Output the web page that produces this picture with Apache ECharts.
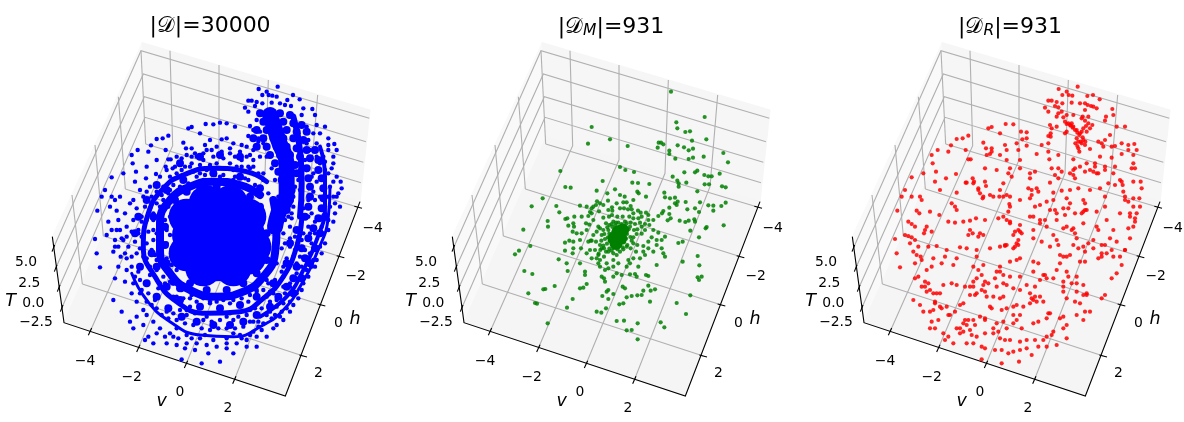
<!DOCTYPE html>
<html><head><meta charset="utf-8"><style>html,body{margin:0;padding:0;background:#fff}#c{width:1184px;height:422px}</style>
<script src="https://cdn.jsdelivr.net/npm/echarts@6/dist/echarts.min.js"></script></head><body><div id="c"></div>
<script>
const titles=[["","30000"],["M","931"],["R","931"]];
const vTicks=["−4","−2","0","2"], hTicks=["−4","−2","0","2"], tTicks=["5.0","2.5","0.0","−2.5"];
const vTickAt=[[255,1085],[395,1133],[540,1177],[684,1225]];
const hTickAt=[[1118,685],[1067,828],[1015,969],[955,1120]];
const tTickAt=[[78,788],[88,850],[100,910],[108,967]];
const axisNames=[["v",485,1203],["h",1065,957],["T",32,905]];
const floorPane=[[192,968],[856,1188],[1080,605],[438,412]];
const backPane=[[438,412],[1080,605],[1110,330],[427,128]];
const leftPane=[[192,968],[157,710],[427,128],[438,412]];
const gridPaths=[
[[437,432],[423,152]],[[376,567],[355,290]],[[310,708],[285,435]],[[247,852],[216,585]],
[[160,745],[423,152],[1108,355]],[[167,805],[430,222],[1098,425]],[[176,865],[433,290],[1090,487]],[[185,925],[435,352],[1083,548]],
[[270,995],[518,437],[510,152]],[[415,1045],[657,480],[657,195]],[[558,1093],[795,520],[805,240]],[[703,1140],[930,560],[953,285]],
[[1075,622],[437,432]],[[1022,770],[376,567]],[[965,915],[310,708]],[[910,1068],[247,852]]];
const axisPaths=[[[157,710],[192,968],[856,1188],[1080,605]],
[[275,984],[265,1006]],[[420,1034],[410,1056]],[[563,1082],[553,1104]],[[708,1129],[698,1151]],
[[1063,619],[1086,625]],[[1010,767],[1033,773]],[[953,912],[976,918]],[[898,1065],[921,1071]],
[[164,735],[156,755]],[[171,795],[163,815]],[[180,855],[172,875]],[[189,915],[181,935]]];

const greenCore=[[655,695],[642,715],[662,715],[648,730],[668,690]];
const greenPoints=[[813,275],[914,351],[829,367],[832,385],[856,396],[870,394],[876,422],[919,418],[575,381],[630,418],[564,431],[683,438],[776,428],[773,443],[783,428],[790,433],[833,436],[852,442],[866,451],[879,446],[808,452],[808,462],[826,476],[866,477],[879,473],[911,470],[970,459],[984,487],[481,513],[660,501],[676,510],[702,516],[818,530],[853,517],[885,517],[892,512],[913,525],[925,529],[935,529],[959,521],[832,542],[836,550],[859,548],[836,560],[914,553],[927,553],[966,559],[977,562],[608,543],[697,548],[714,549],[748,552],[496,561],[512,563],[590,572],[712,575],[716,580],[622,580],[645,568],[660,585],[674,590],[738,590],[793,578],[795,592],[810,595],[825,593],[892,574],[428,595],[395,619],[469,618],[540,617],[575,625],[580,620],[591,604],[588,615],[624,602],[636,622],[670,607],[680,607],[692,618],[684,628],[695,628],[637,632],[672,625],[825,610],[833,605],[857,606],[900,607],[925,616],[940,617],[964,618],[977,608],[940,632],[790,633],[808,623],[830,615],[862,628],[885,625],[897,636],[745,645],[775,648],[786,640],[808,642],[812,655],[803,661],[839,662],[856,666],[866,662],[883,658],[885,665],[871,692],[917,685],[920,681],[971,676],[897,712],[848,725],[835,729],[443,663],[444,680],[370,689],[478,637],[496,657],[502,655],[523,650],[520,670],[505,677],[522,680],[545,650],[565,648],[570,636],[558,670],[568,674],[597,634],[610,653],[627,650],[636,645],[652,650],[668,650],[688,650],[700,640],[714,632],[722,638],[738,638],[715,655],[725,650],[745,660],[595,680],[590,695],[600,685],[618,670],[628,675],[640,665],[655,668],[675,665],[692,668],[705,672],[720,668],[735,690],[760,690],[775,698],[795,710],[755,712],[770,720],[745,725],[730,738],[712,735],[700,730],[692,745],[708,755],[730,755],[760,755],[785,745],[790,760],[795,770],[720,775],[700,775],[685,780],[770,795],[848,785],[893,768],[898,796],[905,830],[893,832],[897,840],[871,886],[830,909],[858,942],[345,763],[357,752],[391,738],[373,813],[397,822],[385,880],[430,868],[436,867],[464,858],[405,909],[411,911],[443,970],[501,923],[518,897],[540,865],[550,863],[560,852],[530,700],[518,695],[540,720],[508,722],[495,728],[520,745],[495,752],[518,760],[543,745],[565,725],[575,722],[570,750],[585,750],[600,735],[595,765],[590,775],[600,780],[612,770],[625,755],[640,760],[650,765],[660,755],[670,748],[680,740],[476,778],[500,790],[540,790],[503,813],[555,815],[555,825],[600,800],[615,810],[625,805],[640,800],[605,830],[612,835],[615,845],[650,820],[640,830],[665,825],[690,823],[705,822],[710,830],[738,825],[745,828],[625,870],[620,875],[607,888],[640,882],[668,860],[675,865],[745,857],[765,868],[752,872],[730,872],[725,885],[712,886],[695,888],[680,892],[670,910],[658,913],[750,905],[625,897],[618,925],[590,935],[604,938],[650,963],[672,962],[713,970],[782,967],[793,982],[680,991],[695,990],[713,1018],
[637,681],[646,676],[657,683],[666,677],[641,692],[651,688],[661,693],[672,689],[628,701],[639,698],[650,703],[661,699],[671,704],[624,712],[634,709],[644,714],[656,708],[666,714],[629,722],[641,724],[650,719],[660,726],[636,733],[646,729],[656,735],[615,717],[621,731],[613,702],[681,702],[686,688],[678,716],[672,727],[640,744],[655,741],[628,746],[604,722],[610,737],[691,711],[702,690],[710,702],[596,761],[601,750],[612,745],[700,712],[725,701],
[610,690],[625,690],[605,705],[680,670],[665,672],[648,668],[635,672],[622,682],[690,680],[605,745],[618,755],[635,752],[652,748],[668,742],[682,735],[695,722],[712,688],[725,680],[580,705],[572,722],[588,725],[560,760],[575,775],[595,790],[620,790],[640,780],[655,790],[680,800],[690,790],[715,800],[735,765],[745,745],[770,735],[785,720],[760,660],[748,675],[735,672],[700,655],[580,660],[560,690],[545,700],[520,725],[650,610],[660,625],[700,600],[610,615],[600,610],[575,640],[560,620],[625,630]];

const redPoints=[[776,267],[833,260],[800,275],[806,285],[817,287],[787,285],[879,285],[862,288],[745,302],[755,302],[770,306],[787,310],[815,308],[840,310],[855,310],[863,315],[873,318],[899,298],[765,318],[775,322],[735,323],[745,335],[775,340],[785,335],[800,345],[820,345],[855,330],[880,320],[890,325],[937,327],[940,345],[918,350],[915,362],[750,375],[755,385],[770,350],[790,352],[795,365],[815,370],[820,380],[830,390],[840,400],[810,375],[845,355],[855,362],[865,370],[870,385],[860,395],[877,375],[800,395],[795,400],[835,425],[845,430],[830,415],[850,420],[855,435],[835,445],[838,455],[870,447],[895,425],[915,420],[905,430],[930,405],[950,380],[975,380],[745,408],[752,410],[745,430],[725,435],[680,397],[663,395],[680,415],[667,418],[650,430],[617,372],[640,373],[575,381],[565,385],[505,407],[488,415],[470,417],[600,400],[453,436],[413,450],[445,455],[395,465],[398,490],[505,478],[512,478],[497,450],[550,428],[558,445],[575,445],[560,465],[570,462],[575,455],[615,435],[620,450],[600,465],[620,480],[660,480],[655,450],[680,437],[710,462],[745,455],[748,478],[775,465],[755,505],[775,505],[820,478],[860,490],[885,490],[900,470],[935,440],[945,438],[965,430],[985,435],[1003,432],[985,450],[1010,450],[965,462],[1000,490],[995,505],[935,473],[880,515],[890,520],[915,500],[940,520],[960,540],[825,505],[810,520],[825,535],[765,525],[785,515],[775,535],[750,548],[705,515],[690,520],[690,535],[660,505],[630,505],[625,520],[635,530],[590,510],[555,505],[610,550],[408,515],[405,545],[370,520],[335,532],[438,535],[468,522],[497,548],[518,535],[522,545],[555,545],[558,558],[535,565],[540,580],[548,595],[580,590],[570,585],[600,570],[610,590],[630,590],[685,565],[695,570],[710,565],[715,575],[695,585],[660,600],[690,595],[760,578],[785,572],[810,570],[835,565],[870,570],[900,565],[965,545],[970,575],[975,590],[1000,545],[1022,545],[1025,565],[1000,595],[1020,620],[985,605],[915,590],[800,595],[850,600],[855,610],[810,610],[760,600],[740,605],[720,615],[705,620],[750,630],[765,630],[790,625],[805,625],[850,635],[860,630],[825,640],[795,645],[770,660],[915,620],[890,635],[960,640],[990,650],[1010,640],[1005,665],[1000,680],[985,685],[315,570],[305,590],[335,590],[360,590],[365,600],[420,570],[470,578],[455,610],[465,620],[470,630],[350,632],[358,640],[390,635],[418,645],[292,632],[325,665],[335,672],[345,680],[380,680],[375,690],[372,700],[445,665],[465,668],[490,665],[510,662],[528,655],[555,660],[595,655],[630,620],[625,635],[610,650],[630,665],[660,675],[690,650],[700,650],[720,670],[735,660],[790,685],[815,690],[820,685],[850,670],[890,680],[895,690],[940,690],[920,660],[285,717],[315,705],[325,708],[335,712],[345,720],[330,730],[355,740],[340,755],[350,765],[290,760],[300,802],[345,790],[362,770],[365,780],[400,775],[385,740],[410,738],[440,750],[395,695],[510,690],[518,700],[535,710],[550,705],[505,705],[540,700],[480,742],[500,745],[530,750],[570,745],[600,740],[615,735],[640,745],[650,730],[655,720],[660,695],[645,695],[665,700],[700,715],[760,705],[770,720],[775,735],[725,725],[750,740],[780,765],[800,770],[810,765],[850,740],[855,755],[880,720],[905,735],[950,725],[975,750],[960,770],[940,770],[920,760],[905,770],[855,785],[840,785],[780,790],[800,815],[805,830],[790,845],[730,825],[740,835],[720,840],[700,785],[715,790],[660,775],[650,780],[630,785],[600,800],[590,815],[550,795],[530,770],[520,800],[470,775],[460,795],[435,770],[425,790],[395,800],[380,810],[355,830],[345,835],[375,845],[385,850],[365,860],[390,870],[400,880],[410,880],[430,855],[455,850],[470,855],[495,860],[510,860],[520,860],[545,870],[555,875],[530,880],[510,885],[525,885],[560,890],[580,890],[600,895],[610,890],[640,865],[660,830],[680,855],[660,870],[690,880],[720,890],[700,900],[710,905],[690,910],[640,920],[650,915],[670,920],[570,920],[575,925],[605,930],[620,925],[555,845],[565,850],[610,850],[620,855],[830,850],[830,875],[850,885],[860,885],[790,875],[800,895],[825,905],[840,910],[905,895],[915,885],[935,835],[950,820],[965,795],[340,900],[370,935],[400,930],[420,920],[405,910],[425,925],[395,965],[390,985],[405,985],[445,945],[465,935],[480,915],[490,910],[445,1010],[435,1020],[460,1030],[480,985],[490,970],[505,960],[520,960],[490,995],[515,1005],[525,975],[555,955],[580,985],[590,970],[595,995],[610,965],[640,945],[650,960],[665,985],[700,970],[715,965],[750,940],[780,955],[790,950],[800,975],[790,985],[830,945],[855,935],[870,935],[850,960],[760,995],[755,1005],[740,1010],[730,1020],[705,1020],[680,1020],[660,1025],[630,1020],[615,1020],[600,1015],[555,1000],[530,1010],[520,1030],[545,1040],[555,1045],[585,1050],[605,1050],[625,1060],[640,1055],[660,1050],[680,1045],[695,1065],[715,1040],[740,1040],[770,1035],[800,1015],[545,1078],[605,1090],[657,1085],
[805,370],[812,377],[818,383],[825,390],[832,398],[838,405],[845,395],[850,385],[858,378],[842,425],[848,412],[826,430],[832,438],[856,425],[865,350],[848,350],[800,372],[770,380],[752,400],[910,440],[945,500],[968,555],[975,600],[1000,620],[1018,595],[990,640],[1005,655],[915,510],[945,555],[925,550],[895,520],[885,500],[870,510],[855,515],[840,500],[820,525],[820,510],[1005,505],[1000,465],[620,585],[628,612],[598,590],[550,590],[535,570],[500,548],[520,550],[620,660],[630,670],[655,690],[640,705],[655,735],[645,740],[615,738],[620,735],[700,690],[720,660],[740,680],[770,640],[855,630],[845,640],[800,680],[825,700],[830,715],[865,730],[880,745],[790,770],[820,735],[835,745],[895,775],[905,760],[930,715],[915,735],[935,750],[990,715],[975,750],[535,810],[545,825],[530,835],[520,845],[550,855],[590,860],[610,825],[600,815],[585,835],[630,830],[700,815],[735,825],[705,860],[760,835],[770,810],[830,830],[815,850],[850,855],[860,880],[790,860],[745,940],[740,955],[705,890],[695,895],[730,905],[660,945],[640,970],[620,985],[580,1000],[555,960],[540,950],[495,960],[500,975],[470,985],[480,1000],[510,990],[500,1030],[430,1000],[415,960],[390,935],[360,915],[405,905],[440,920],[450,945],[420,880],[380,875],[375,860]];

const blueCore=[[650,705],[600,650],[700,650],[600,760],[700,760],[650,620],[650,790],[570,705],[740,700],[760,740],[620,610],[690,610],[745,650],[560,650],[560,760],[610,805],[700,805],[745,770]];
const blueFill=[[780,340],[810,340],[840,340],[870,345],[790,365],[820,365],[850,365],[880,370],[905,375],[770,390],[800,390],[830,390],[860,390],[890,395],[920,395],[760,415],[790,415],[820,415],[850,415],[880,415],[910,420],[770,440],[800,440],[830,440],[860,440],[890,445],[920,450],[945,450],[810,465],[840,465],[870,465],[900,470],[930,475],[955,480],[825,490],[855,490],[885,495],[920,505],[955,510],[835,515],[865,515],[890,520],[925,535],[965,535],[845,540],[870,545],[930,560],[970,565],[850,565],[875,570],[930,590],[970,595],[850,595],[870,600],[925,620],[965,625],[840,620],[860,630],[915,650],[955,655],[890,690],[940,685],[925,715],[905,745],[915,775],[890,800],[880,835],[860,860],[835,890],[810,920],[770,945],[730,965],[690,975],[640,975],[590,965],[545,950],[505,925],[470,890],[440,850],[420,800],[405,700],[415,650],[440,600],[470,555],[540,490],[600,470],[660,465],[720,470],[975,650],[960,700],[945,745],[930,790],[905,835],[880,880],[520,845],[540,865],[500,790],[495,735],[495,680],[525,600],[560,575],[600,560],[650,560],[700,570],[750,590],[780,620],[800,700],[800,780],[770,820],[730,850],[680,870],[620,870],[570,850],[455,760],[470,800],[500,860],[540,900],[600,920],[660,925],[720,915],[770,890],[820,850],[860,790],[870,730],[460,650],[500,570],[550,540],[640,520],[720,530],[780,565]];
const blueBandInner=[[820,600],[830,680],[825,760],[790,830],[730,875],[650,890],[570,870],[510,820],[480,750],[480,670],[510,600],[570,560],[640,545],[720,555],[780,585]];
const blueBandMiddle=[[905,660],[890,740],[850,830],[790,895],[720,935],[620,940],[530,905],[465,830],[430,740],[445,640],[490,565],[550,525],[640,505],[740,515],[800,545]];
const blueBandOuter=[[990,560],[985,650],[950,760],[900,860],[850,930],[790,975],[700,1010],[600,1005],[510,965],[440,900],[395,820]];
const blueBandRight=[[960,440],[975,530],[975,620],[950,720],[910,810],[860,890],[780,950]];
const blueBandSide=[[880,350],[900,450],[905,550],[900,650]];
const blueStem=[[810,345],[835,420],[860,500],[860,580],[835,640],[825,680]];
const blueSparse=[[776,267],[833,260],[800,275],[806,285],[817,287],[787,285],[830,290],[879,285],[862,300],[745,302],[755,302],[770,306],[787,310],[815,308],[840,310],[855,315],[873,318],[899,298],[910,325],[735,323],[745,335],[765,318],[905,345],[937,327],[945,345],[950,375],[975,380],[750,378],[745,408],[725,435],[705,380],[680,370],[660,368],[617,372],[640,373],[575,381],[565,385],[505,407],[488,415],[470,417],[600,400],[630,420],[665,418],[680,415],[700,430],[453,436],[413,450],[445,455],[395,465],[398,490],[505,478],[512,478],[497,450],[550,428],[558,445],[575,445],[560,465],[585,460],[615,435],[620,450],[650,440],[690,445],[740,440],[408,515],[405,545],[370,520],[335,532],[438,535],[468,522],[497,500],[518,505],[530,470],[470,480],[440,500],[985,435],[1003,432],[985,450],[1010,450],[1000,490],[995,505],[1022,545],[1025,565],[1000,545],[1010,590],[1020,620],[1005,640],[1000,665],[985,690],[975,730],[965,760],[945,800],[925,830],[905,870],[895,895],[860,925],[870,935],[850,960],[830,975],[800,1010],[770,1040],[740,1040],[700,1060],[680,1045],[660,1085],[625,1060],[605,1090],[585,1050],[545,1078],[555,1045],[530,1035],[500,1030],[460,1030],[445,1010],[435,1020],[480,985],[440,945],[400,985],[390,965],[365,935],[340,900],[345,835],[300,802],[290,760],[285,717],[292,632],[305,590],[315,570],[335,590],[360,590],[350,632],[325,665],[335,690],[320,705],[345,720],[355,740],[340,755],[362,770],[380,810],[375,845],[395,880],[410,905],[430,930],[460,965],[380,680],[375,640],[390,610],[420,570],[400,600],[425,650],[370,720],[395,695],[385,740],[410,760],[395,800],[420,840],[445,880],[470,925],[505,955],[530,985],[560,1005],[600,1015],[640,1020],[680,1015],[720,1005],[760,995],[790,970],[825,945],[850,910],[880,915],[910,850],[940,780],[970,700],[990,620],[990,560],[975,510],[970,470],[950,430],[925,420],[575,490],[630,495],[690,490],[745,500],[530,520],[490,560],[455,610],[425,710],[430,770],[450,800],[480,850],[520,890],[570,920],[620,950],[680,950],[750,930],[800,890],[850,830],[880,770],[910,700],[935,640],[945,600],[900,510],[760,480],[750,505],[790,540],[790,520],[745,540],[700,540],[610,540],[550,540],[505,580],[460,660],[460,720],[470,780],[520,850],[570,895],[630,910],[690,910],[750,885],[805,850],[850,800],[870,740],[870,680],[880,620],[900,570],[895,540],
[590,470],[610,480],[640,470],[670,475],[705,470],[725,480],[765,440],[775,425],[540,490],[555,500],[580,515],[510,530],[480,530],[450,560],[430,590],[410,625],[400,660],[415,690],[405,725],[345,600],[330,620],[355,660],[350,690],[365,715],[380,775],[355,800],[405,830],[425,870],[455,915],[410,950],[430,975],[470,1000],[495,1010],[520,1010],[560,1030],[590,1030],[620,1035],[650,1040],[680,1030],[710,1030],[740,1020],[770,1010],[820,985],[840,950],[870,905],[890,880],[920,810],[950,780],[960,740],[985,660],[1005,610],[1015,580],[1010,530],[1000,470],[985,415],[960,400],[940,400],[920,380],[780,395],[760,450],[780,470],[740,470],[710,500],[660,530],[600,520],[540,560],[500,620],[470,700],[500,800],[560,930],[700,960],[760,965],[820,880],[890,790],[930,700],[960,590],[940,520],[950,470],
[440,575],[455,590],[470,575],[485,585],[435,620],[450,625],[470,610],[490,600],[505,620],[425,665],[440,660],[460,640],[475,650],[495,660],[510,650],[415,700],[445,695],[460,690],[500,690],[510,705],[420,745],[440,730],[455,750],[500,730],[515,745],[525,770],[440,775],[465,765],[500,775],[515,795],[530,810],[450,825],[470,810],[490,830],[510,845],[475,865],[495,850],[530,845],[545,870],[505,885],[530,890],[550,895],[575,885],[590,905],[610,895],[630,905],[650,905],[670,900],[700,900],[725,895],[745,905],[770,875],[790,870],[810,875],[825,840],[845,815],[860,775],[855,730],[870,715],[865,650],[875,655],
[500,935],[520,940],[540,930],[560,945],[585,940],[610,960],[635,965],[660,960],[690,940],[715,950],[740,945],[765,925],[785,925],[810,905],[830,920],[855,880],[870,860],[890,835],[530,960],[555,970],[580,975],[605,985],[630,990],[655,985],[680,985],[705,985],[730,980],[750,965],[775,965],[800,945],[815,955],[845,935],[485,945],[465,900],[440,905],[420,880],[400,850],[415,815],[395,770],[375,760],[380,710],[345,740],[360,690],[510,1000],[535,1015],[575,1015],[615,1005],[700,1000],[725,1015],[750,1005],[785,990],
[885,750],[900,770],[915,750],[935,730],[945,700],[925,680],[900,690],[885,710],[905,720],[945,665],[960,660],[925,650],[910,625],[925,600],[940,575],[950,545],[935,530],[920,510],[915,480],[930,450],[960,490],[975,485],[985,520],[1000,590],[985,590],[975,640],[965,680],[950,750],[930,760],[905,800],[890,820],[870,850],[850,860],[830,900],[810,935],[775,980],[920,780],[935,800],
[770,360],[760,390],[775,415],[790,430],[800,470],[815,505],[825,540],[835,590],[820,610],[805,580],[895,400],[920,430],[905,485],[900,530],[885,560],[880,590],[875,640],[855,660],[850,700],[845,745],[830,790],[800,840],[770,870],[745,870],
[500,510],[525,500],[545,510],[570,500],[600,495],[620,510],[650,490],[675,505],[700,510],[725,500],[760,500],[775,520],[545,475],[575,470],[610,460],[635,450],[665,455],[690,460],[720,455],[750,465],[520,555],[540,565],[565,550],[590,530],[615,525],[645,525],[670,525],[705,530],[735,535],[765,555],[510,570],[480,620]];

const font='"DejaVu Sans"';
const panels=[0,1,2];
const widths=[400,400,384];
function paths(list,stroke,width,gi,z){
  return {type:'custom',xAxisIndex:gi,yAxisIndex:gi,z,clip:false,silent:true,data:list.map(l=>l[0]),
    encode:{x:0,y:1},renderItem:(p,api)=>({type:'polyline',shape:{points:list[p.dataIndex].map(q=>api.coord(q))},style:{stroke,lineWidth:width,fill:null}})};
}
function pane(pts,fill,gi){
  return {type:'custom',xAxisIndex:gi,yAxisIndex:gi,z:1,clip:false,silent:true,data:[pts[0]],encode:{x:0,y:1},
    renderItem:(p,api)=>({type:'polygon',shape:{points:pts.map(q=>api.coord(q))},style:{fill,stroke:fill}})};
}
function texts(labels,at,size,style,gi){
  return {type:'custom',xAxisIndex:gi,yAxisIndex:gi,z:5,clip:false,silent:true,data:at,encode:{x:0,y:1},
    renderItem:(p,api)=>{const c=api.coord(at[p.dataIndex]);return {type:'text',x:c[0],y:c[1],style:{text:labels[p.dataIndex],fontFamily:font,fontSize:size,fontStyle:style,fill:'#000',align:'center',verticalAlign:'middle'}};}};
}
function dots(data,color,size,op,gi){
  return {type:'scatter',xAxisIndex:gi,yAxisIndex:gi,z:7,data,symbolSize:size,clip:false,silent:true,animation:false,itemStyle:{color,opacity:op,borderWidth:0}};
}
function band(data,width){
  return {type:'line',xAxisIndex:0,yAxisIndex:0,z:6,data,smooth:true,showSymbol:false,symbol:'none',clip:false,silent:true,animation:false,lineStyle:{color:'#0000ff',width,cap:'round'}};
}
const series=[];
panels.forEach(g=>{
  series.push(pane(leftPane,'#f9f9f9',g),pane(backPane,'#f6f6f6',g),pane(floorPane,'#f5f5f5',g));
  series.push(paths(gridPaths,'#b0b0b0',1.1,g,2),paths(axisPaths,'#000',1.1,g,3));
  series.push(texts(vTicks,vTickAt,13.9,'normal',g),texts(hTicks,hTickAt,13.9,'normal',g),texts(tTicks,tTickAt,13.9,'normal',g));
  series.push(texts(axisNames.map(a=>a[0]),axisNames.map(a=>[a[1],a[2]]),17.5,'italic',g));
});
series.push(dots(blueCore,'#0000ff',36,1,0),dots(blueFill,'#0000ff',8,1,0),band(blueBandInner,8),band(blueBandMiddle,5),band(blueBandOuter,3),band(blueBandRight,4),band(blueBandSide,6),band(blueStem,16));
series.push(dots(blueSparse,'#0000ff',4.4,1,0));
series.push(dots(greenCore,'#008000',13,1,1),dots(greenPoints,'#008000',4.2,0.85,1));
series.push(dots(redPoints,'#ff0000',4.2,0.85,2));
const rich={cal:{fontFamily:'"DejaVu Sans","Noto Sans"',fontSize:22,fontWeight:'normal'},sub:{fontFamily:font,fontSize:15.5,fontStyle:'italic',fontWeight:'normal',verticalAlign:'bottom',padding:[8,0,0,0]},n:{fontFamily:font,fontSize:22,fontWeight:'normal'}};
const centers=[205,606,1005];
const option={animation:false,backgroundColor:'#fff',
 title:titles.map((t,i)=>({left:centers[i],top:10,textAlign:'center',text:'{n||}{cal|𝒟}'+(t[0]?'{sub|'+t[0]+'}':'')+'{n||='+t[1]+'}',textStyle:{rich,fontFamily:font,fontSize:22,fontWeight:'normal',color:'#000'}})),
 grid:panels.map(g=>({left:g*400,top:0,width:widths[g],height:422,containLabel:false})),
 xAxis:panels.map(g=>({type:'value',gridIndex:g,min:0,max:widths[g]*3,show:false})),
 yAxis:panels.map(g=>({type:'value',gridIndex:g,min:0,max:1266,inverse:true,show:false})),
 series};
const chart=echarts.init(document.getElementById('c'),null,{renderer:'canvas',width:1184,height:422});
chart.setOption(option);
</script></body></html>
